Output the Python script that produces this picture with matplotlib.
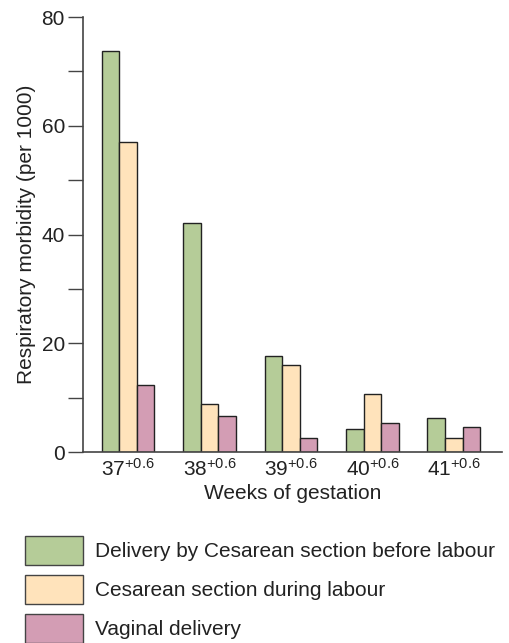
import matplotlib
matplotlib.use("Agg")
import matplotlib.pyplot as plt
from matplotlib.patches import Patch
import numpy as np

plt.rcParams['font.family'] = ['Liberation Sans', 'DejaVu Sans']
plt.rcParams['mathtext.fontset'] = 'custom'
plt.rcParams['mathtext.rm'] = 'Liberation Sans'

weeks = ['37', '38', '39', '40', '41']
series_names = ['Delivery by Cesarean section before labour',
                'Cesarean section during labour',
                'Vaginal delivery']
cs_before = [73.7, 42.2, 17.6, 4.2, 6.25]
cs_during = [57.0, 8.8, 16.0, 10.6, 2.5]
vaginal = [12.4, 6.6, 2.5, 5.4, 4.65]
colors = ['#b5cc98', '#ffe3bb', '#d39db4']

fig = plt.figure(figsize=(5.09, 6.43), dpi=100)
ax = fig.add_axes([0.163, 0.297, 0.823, 0.6764])

x = np.arange(len(weeks))
w = 0.216
for i, (vals, c) in enumerate(zip([cs_before, cs_during, vaginal], colors)):
    ax.bar(x + (i - 1) * w, vals, width=w, color=c, edgecolor='#222222', linewidth=1.0)

ax.set_xlim(-0.552, 4.589)
ax.set_ylim(0, 80)
ax.set_yticks([0, 20, 40, 60, 80])
ax.set_yticks([10, 30, 50, 70], minor=True)
ax.tick_params(axis='y', which='both', length=11, width=1, labelsize=15, pad=2,
               color='#444444', labelcolor='#222222')
ax.set_xticks(x)
ax.set_xticklabels([r'$\mathregular{%s^{+0.6}}$' % wk for wk in weeks], fontsize=15, color='#222222')
ax.tick_params(axis='x', length=0, pad=4)
for s in ['top', 'right']:
    ax.spines[s].set_visible(False)
ax.spines['left'].set_color('#444444')
ax.spines['bottom'].set_color('#444444')
ax.spines['left'].set_linewidth(1.2)
ax.spines['bottom'].set_linewidth(1.2)

ax.set_xlabel('Weeks of gestation', fontsize=15, color='#222222', labelpad=3)
ax.set_ylabel('Respiratory morbidity (per 1000)', fontsize=15, color='#222222', labelpad=4)

handles = [Patch(facecolor=c, edgecolor='#444444', linewidth=1.0) for c in colors]
fig.legend(handles, series_names, loc='upper left', bbox_to_anchor=(0.05, 0.167),
           frameon=False, fontsize=15, handlelength=2.75, handleheight=1.8,
           labelspacing=0.46, handletextpad=0.6, borderpad=0, borderaxespad=0,
           labelcolor='#222222')

fig.savefig('out.png', dpi=100)
